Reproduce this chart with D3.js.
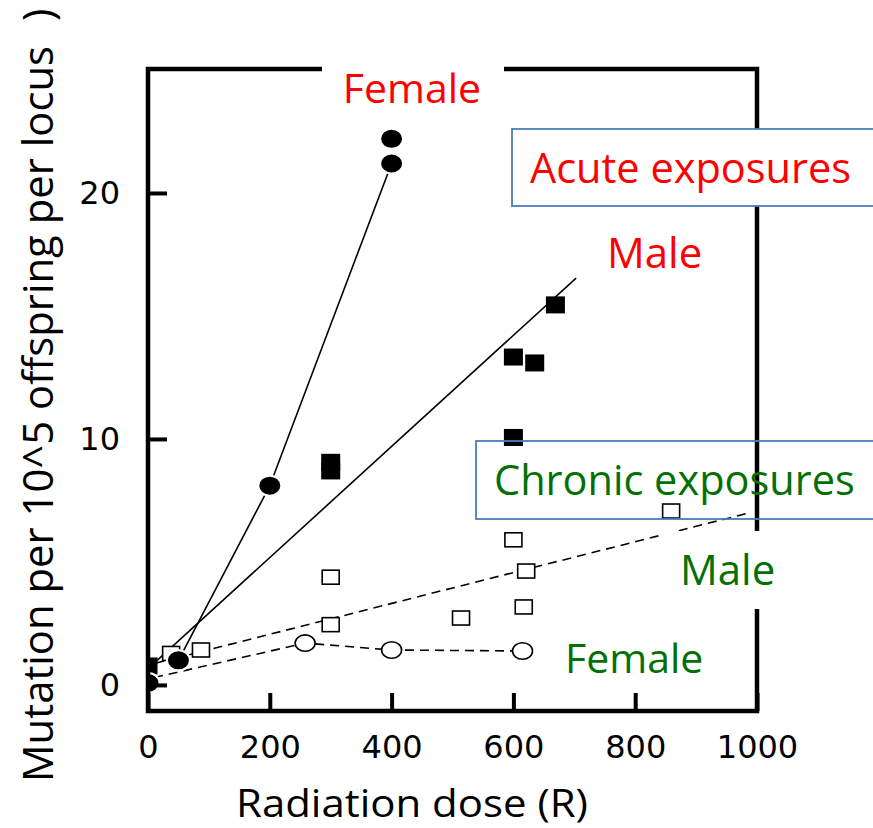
<!DOCTYPE html>
<html>
<head>
<meta charset="utf-8">
<script src="https://cdn.jsdelivr.net/npm/d3@7"></script>
<style>
  html, body { margin: 0; padding: 0; background: #fff; }
  svg { display: block; }
</style>
</head>
<body>
<svg id="chart" width="873" height="828"></svg>
<script>
// ---------- data ----------
const xTickValues = [0, 200, 400, 600, 800, 1000];
const yTickValues = [0, 10, 20];

// Acute exposures (filled markers)
const acuteFemaleDose = [0, 50, 200, 400, 400];
const acuteFemaleRate = [0.08, 1.0, 8.1, 21.2, 22.2];
const acuteMaleDose = [0, 300, 300, 600, 600, 635, 669];
const acuteMaleRate = [0.77, 9.05, 8.7, 13.33, 10.06, 13.09, 15.45];

// Chronic exposures (open markers)
const chronicMaleDose = [38, 87, 300, 300, 514, 600, 617, 621, 859];
const chronicMaleRate = [1.28, 1.42, 4.38, 2.45, 2.72, 5.9, 3.17, 4.63, 7.07];
const chronicFemaleDose = [258, 400, 615];
const chronicFemaleRate = [1.7, 1.42, 1.38];

// Fitted / connecting lines
const acuteFemaleLineDose = [50, 200, 400];
const acuteFemaleLineRate = [1.0, 8.1, 21.2];
const acuteMaleLineDose = [15, 703];
const acuteMaleLineRate = [1.0, 16.54];
const chronicMaleLineDose = [12, 988];
const chronicMaleLineRate = [0.88, 7.0];
const chronicFemaleLineDose = [10, 258, 400, 615];
const chronicFemaleLineRate = [0.3, 1.7, 1.42, 1.38];

const xTitle = "Radiation dose (R)";
const yTitle = "Mutation per 10^5 offspring per locus";
const yTitleTail = ")";
const labelAcuteFemale = "Female";
const labelAcuteMale = "Male";
const labelAcuteBox = "Acute exposures";
const labelChronicBox = "Chronic exposures";
const labelChronicMale = "Male";
const labelChronicFemale = "Female";

// ---------- layout ----------
const svg = d3.select("#chart");
svg.append("rect").attr("width", 873).attr("height", 828).attr("fill", "#fff");

const x = d3.scaleLinear().domain([0, 1000]).range([148, 757]);
const y = d3.scaleLinear().domain([-1.06, 25.04]).range([711, 69]);

const RED = "#ff0000";
const GREEN = "#037003";
const BLUE = "#4a7ebb";
const TEXT_FONT = "'Open Sans', 'Noto Sans', sans-serif";
const TICK_FONT = "'DejaVu Sans', sans-serif";

const zip = (a, b) => a.map((d, i) => [d, b[i]]);

svg.append("defs").append("clipPath").attr("id", "plotClip")
  .append("rect")
  .attr("x", x(0)).attr("y", y(25.04))
  .attr("width", x(1000) - x(0) + 20).attr("height", y(-1.06) - y(25.04));

const plot = svg.append("g").attr("clip-path", "url(#plotClip)");
const line = d3.line().x(d => x(d[0])).y(d => y(d[1]));

// lines
plot.append("path").datum(zip(acuteFemaleLineDose, acuteFemaleLineRate))
  .attr("d", line).attr("fill", "none").attr("stroke", "#000").attr("stroke-width", 1.6);
plot.append("path").datum(zip(acuteMaleLineDose, acuteMaleLineRate))
  .attr("d", line).attr("fill", "none").attr("stroke", "#000").attr("stroke-width", 1.6);
plot.append("path").datum(zip(chronicMaleLineDose, chronicMaleLineRate))
  .attr("d", line).attr("fill", "none").attr("stroke", "#000").attr("stroke-width", 1.6)
  .attr("stroke-dasharray", "9,6");
plot.append("path").datum(zip(chronicFemaleLineDose, chronicFemaleLineRate))
  .attr("d", line).attr("fill", "none").attr("stroke", "#000").attr("stroke-width", 1.6)
  .attr("stroke-dasharray", "9,6");

// chronic markers
plot.selectAll(".cm").data(zip(chronicMaleDose, chronicMaleRate)).join("rect")
  .attr("x", d => x(d[0]) - 8.5).attr("y", d => y(d[1]) - 7)
  .attr("width", 17).attr("height", 14)
  .attr("fill", "#fff").attr("stroke", "#000").attr("stroke-width", 1.6);
plot.selectAll(".cf").data(zip(chronicFemaleDose, chronicFemaleRate)).join("ellipse")
  .attr("cx", d => x(d[0])).attr("cy", d => y(d[1]))
  .attr("rx", 10).attr("ry", 8.2)
  .attr("fill", "#fff").attr("stroke", "#000").attr("stroke-width", 1.6);

// acute markers
plot.selectAll(".am").data(zip(acuteMaleDose, acuteMaleRate)).join("rect")
  .attr("x", d => x(d[0]) - 9.5).attr("y", d => y(d[1]) - 8.5)
  .attr("width", 19).attr("height", 17)
  .attr("fill", "#000");
plot.selectAll(".af").data(zip(acuteFemaleDose, acuteFemaleRate)).join("ellipse")
  .attr("cx", d => x(d[0])).attr("cy", d => y(d[1]))
  .attr("rx", 11.5).attr("ry", 10)
  .attr("fill", "#000").attr("stroke", "#fff").attr("stroke-width", 2);

// frame
svg.append("rect")
  .attr("x", x(0)).attr("y", y(25.04))
  .attr("width", x(1000) - x(0)).attr("height", y(-1.06) - y(25.04))
  .attr("fill", "none").attr("stroke", "#000").attr("stroke-width", 4.5);

// axes
const xAxis = svg.append("g").attr("transform", `translate(0,${y(-1.06)})`)
  .call(d3.axisBottom(x).tickValues(xTickValues).tickFormat(d3.format("d"))
    .tickSize(-18).tickPadding(24));
xAxis.select(".domain").remove();
xAxis.selectAll(".tick line").attr("stroke", "#000").attr("stroke-width", 4);
xAxis.selectAll(".tick text").attr("font-family", TICK_FONT).attr("font-size", 32)
  .attr("fill", "#000");

const yAxis = svg.append("g").attr("transform", `translate(${x(0)},0)`)
  .call(d3.axisLeft(y).tickValues(yTickValues).tickFormat(d3.format("d"))
    .tickSize(-19).tickPadding(28));
yAxis.select(".domain").remove();
yAxis.selectAll(".tick line").attr("stroke", "#000").attr("stroke-width", 4);
yAxis.selectAll(".tick text").attr("font-family", TICK_FONT).attr("font-size", 32)
  .attr("fill", "#000");

// axis titles
svg.append("text").text(xTitle)
  .attr("x", 236).attr("y", 817)
  .attr("font-family", TEXT_FONT).attr("font-size", 38)
  .attr("textLength", 352).attr("lengthAdjust", "spacingAndGlyphs")
  .attr("fill", "#000");
const yTitleG = svg.append("g").attr("transform", "translate(53,782) rotate(-90)");
yTitleG.append("text").text(yTitle)
  .attr("x", 0).attr("y", 0)
  .attr("font-family", TEXT_FONT).attr("font-size", 42)
  .attr("textLength", 736).attr("lengthAdjust", "spacingAndGlyphs")
  .attr("fill", "#000");
yTitleG.append("text").text(yTitleTail)
  .attr("x", 761).attr("y", 0)
  .attr("font-family", TEXT_FONT).attr("font-size", 42)
  .attr("fill", "#000");

// annotations
// red "Female" with white background over the top frame
svg.append("rect").attr("x", 322).attr("y", 49).attr("width", 182).attr("height", 77).attr("fill", "#fff");
svg.append("text").text(labelAcuteFemale)
  .attr("x", 412).attr("y", 103).attr("text-anchor", "middle")
  .attr("font-family", TEXT_FONT).attr("font-size", 41).attr("fill", RED);

// Acute exposures box (white fill)
svg.append("rect").attr("x", 512).attr("y", 129).attr("width", 370).attr("height", 77)
  .attr("fill", "#fff").attr("stroke", BLUE).attr("stroke-width", 1.8);
svg.append("text").text(labelAcuteBox)
  .attr("x", 530).attr("y", 183)
  .attr("font-family", TEXT_FONT).attr("font-size", 41.5).attr("fill", RED);

svg.append("text").text(labelAcuteMale)
  .attr("x", 607).attr("y", 268)
  .attr("font-family", TEXT_FONT).attr("font-size", 42).attr("fill", RED);

// Chronic exposures box (no fill)
svg.append("rect").attr("x", 476).attr("y", 441).attr("width", 410).attr("height", 78)
  .attr("fill", "none").attr("stroke", BLUE).attr("stroke-width", 1.8);
svg.append("text").text(labelChronicBox)
  .attr("x", 494).attr("y", 495)
  .attr("font-family", TEXT_FONT).attr("font-size", 41.5).attr("fill", GREEN);

// green Male with white background over the right frame
svg.append("rect").attr("x", 662).attr("y", 531).attr("width", 140).attr("height", 78).attr("fill", "#fff");
svg.append("text").text(labelChronicMale)
  .attr("x", 680).attr("y", 585)
  .attr("font-family", TEXT_FONT).attr("font-size", 42).attr("fill", GREEN);

svg.append("text").text(labelChronicFemale)
  .attr("x", 565).attr("y", 673)
  .attr("font-family", TEXT_FONT).attr("font-size", 41).attr("fill", GREEN);
</script>
</body>
</html>
